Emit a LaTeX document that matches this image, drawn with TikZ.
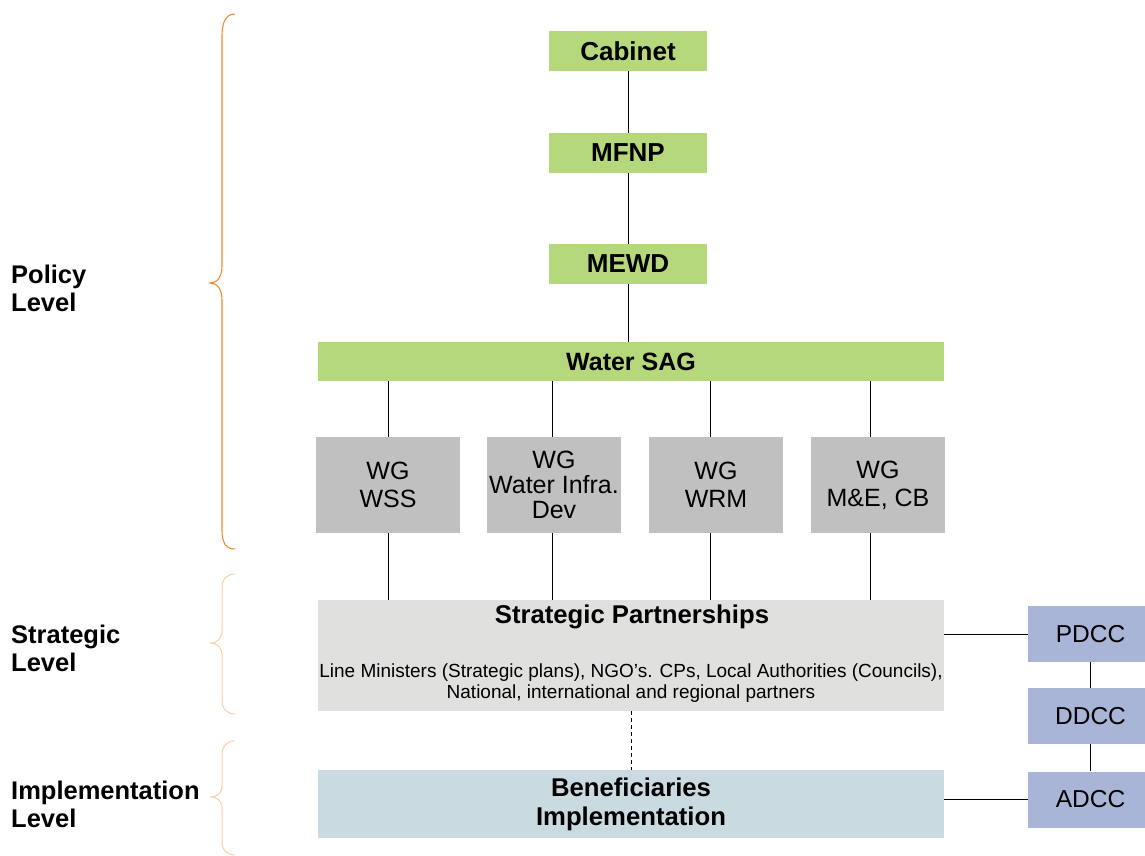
\documentclass[tikz,border=0pt]{standalone}
\usepackage{fontspec}
\setmainfont{Liberation Sans}
\definecolor{grn}{HTML}{B5D87D}
\definecolor{wgg}{HTML}{C0C0C0}
\definecolor{spg}{HTML}{E0E0DE}
\definecolor{benb}{HTML}{C9DBE1}
\definecolor{dcc}{HTML}{A9B5D6}
\definecolor{or1}{HTML}{F08A30}
\definecolor{or2}{HTML}{F8CFA6}
\begin{document}
\begin{tikzpicture}[x=1pt,y=-1pt,
  box/.style={draw=none,inner sep=0pt,align=center},
  greenbox/.style={box,fill=grn,minimum width=158pt,minimum height=40pt,font=\fontsize{26}{28}\selectfont\bfseries},
  wgbox/.style={box,fill=wgg,minimum width=134pt,minimum height=96pt,font=\fontsize{25}{28}\selectfont},
  dccbox/.style={box,fill=dcc,minimum width=117pt,minimum height=56pt,font=\fontsize{24.5}{26}\selectfont},
  lbl/.style={anchor=west,align=left,inner sep=0pt,font=\fontsize{25.5}{28}\selectfont\bfseries},
  conn/.style={draw=black,line width=0.9pt},
  brace1/.style={draw=or1,line width=1.1pt},
  brace2/.style={draw=or2,line width=1pt}]
\useasboundingbox (0,0) rectangle (1145,855);
% boxes
\node[greenbox] (cab) at (628,51) {Cabinet};
\node[greenbox] (mfnp) at (628,153) {MFNP};
\node[greenbox] (mewd) at (628,264) {MEWD};
\node[greenbox,minimum width=626pt,minimum height=39pt,font=\fontsize{25}{27}\selectfont\bfseries] (sag) at (631,361.5) {Water SAG};
\node[wgbox,minimum width=144pt] (wg1) at (388,485) {WG\\WSS};
\node[wgbox,font=\fontsize{25}{25}\selectfont] (wg2) at (554,485) {WG\\Water Infra.\\Dev};
\node[wgbox] (wg3) at (716,485) {WG\\WRM};
\node[wgbox] (wg4) at (878,485) {WG\\M\&E, CB};
\node[box,fill=spg,minimum width=626pt,minimum height=111pt] (sp) at (631,655.5) {};
\node[inner sep=0pt,font=\fontsize{25.7}{27}\selectfont\bfseries] (spt) at (632,617) {Strategic Partnerships};
\node[inner sep=0pt,align=center,font=\fontsize{19}{20.5}\selectfont] (sps) at (631,683) {Line Ministers (Strategic plans), NGO’s. CPs, Local Authorities (Councils),\\National, international and regional partners};
\node[box,fill=benb,minimum width=626pt,minimum height=68pt,font=\fontsize{25.7}{29}\selectfont\bfseries] (ben) at (631,804) {Beneficiaries\\Implementation};
\node[dccbox] (pdcc) at (1086.5,634) {\hspace*{8pt}PDCC};
\node[dccbox] (ddcc) at (1086.5,716) {\hspace*{8pt}DDCC};
\node[dccbox] (adcc) at (1086.5,799.5) {\hspace*{8pt}ADCC};
% labels
\node[lbl] (pl) at (11,288) {Policy\\Level};
\node[lbl] (sl) at (11,648) {Strategic\\Level};
\node[lbl] (il) at (11,804) {Implementation\\Level};
% connectors
\draw[conn] (cab) -- (mfnp);
\draw[conn] (mfnp) -- (mewd);
\draw[conn] (mewd) -- (mewd |- sag.north);
\coordinate (c1) at (388,0);
\coordinate (c2) at (552,0);
\coordinate (c3) at (710,0);
\coordinate (c4) at (870,0);
\foreach \i in {1,2,3,4}{
  \draw[conn] (c\i |- sag.south) -- (c\i |- wg\i.north);
  \draw[conn] (c\i |- wg\i.south) -- (c\i |- sp.north);
}
\draw[conn,dashed,dash pattern=on 4pt off 3pt] (sp.south) -- (ben.north);
\draw[conn] (pdcc.west) -- (pdcc.west -| sp.east);
\draw[conn] (adcc.west) -- (adcc.west -| ben.east);
\draw[conn] (1090,662) -- (1090,688);
\draw[conn] (1090,744) -- (1090,771);
% braces
\draw[brace1] (235,14) .. controls (226,14) and (222,22) .. (222,36) -- (222,266) .. controls (222,277) and (217,283) .. (210,283) .. controls (217,283) and (222,289) .. (222,300) -- (222,530) .. controls (222,543) and (226,549) .. (235,549);
\draw[brace2] (235,574) .. controls (227,574) and (222,579) .. (222,588) -- (222,630) .. controls (222,638) and (218,643) .. (210,643) .. controls (218,643) and (222,648) .. (222,656) -- (222,700) .. controls (222,709) and (227,714) .. (235,714);
\draw[brace2] (235,741) .. controls (227,741) and (222,746) .. (222,755) -- (222,785) .. controls (222,793) and (218,797) .. (210,797) .. controls (218,797) and (222,801) .. (222,809) -- (222,842) .. controls (222,850) and (227,855) .. (235,855);
\end{tikzpicture}
\end{document}
